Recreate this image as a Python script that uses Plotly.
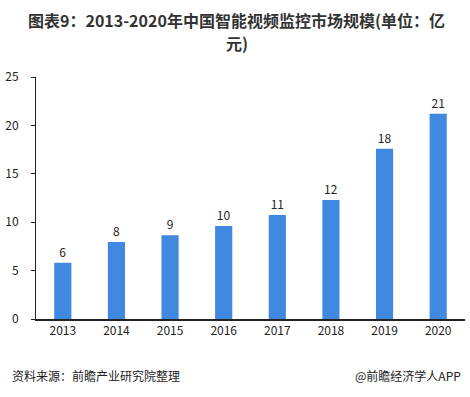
import plotly.graph_objects as go

years = ["2013", "2014", "2015", "2016", "2017", "2018", "2019", "2020"]
values = [5.8, 7.95, 8.65, 9.6, 10.75, 12.3, 17.6, 21.2]
labels = ["6", "8", "9", "10", "11", "12", "18", "21"]
y_ticks = [0, 5, 10, 15, 20, 25]

fig = go.Figure()
fig.add_trace(go.Bar(
    x=years, y=values, text=labels, textposition="outside",
    textfont=dict(size=12, color="#222", family="Noto Sans CJK SC"),
    marker=dict(color="#4189E0", line=dict(width=0)),
    width=0.32, cliponaxis=False,
))

fig.update_layout(
    width=470, height=397,
    margin=dict(l=33, r=5, t=77, b=78),
    plot_bgcolor="white", paper_bgcolor="white",
    showlegend=False,
    font=dict(family="Noto Sans CJK SC", size=12, color="#222"),
    xaxis=dict(
        showline=True, linecolor="#222", linewidth=1.5,
        ticks="", showgrid=False, tickfont=dict(size=12, color="#222"),
    ),
    yaxis=dict(
        range=[0, 25], tickvals=y_ticks, showline=True, linecolor="#222",
        linewidth=1, ticks="outside", ticklen=4, tickcolor="#222",
        showgrid=False, zeroline=False, tickfont=dict(size=12, color="#222"),
        ticklabelstandoff=10,
    ),
)

title_font = dict(size=16, color="#333", family="Noto Sans CJK SC")
fig.add_annotation(
    text="<b>图表9：2013-2020年中国智能视频监控市场规模(单位：亿</b>",
    xref="paper", yref="paper", x=0.4676, y=1.236, xanchor="center", yanchor="middle",
    showarrow=False, font=title_font,
)
fig.add_annotation(
    text="<b>元)</b>",
    xref="paper", yref="paper", x=0.4676, y=1.14, xanchor="center", yanchor="middle",
    showarrow=False, font=title_font,
)
fig.add_annotation(text="资料来源：前瞻产业研究院整理", xref="paper", yref="paper",
                   x=-0.06, y=-0.235, xanchor="left", yanchor="middle", showarrow=False,
                   font=dict(size=12, color="#222"))
fig.add_annotation(text="@前瞻经济学人APP", xref="paper", yref="paper",
                   x=0.995, y=-0.235, xanchor="right", yanchor="middle", showarrow=False,
                   font=dict(size=12, color="#222"))

fig.write_html("out.html", post_script="document.body.style.margin='0';",
               config={"displayModeBar": False})
